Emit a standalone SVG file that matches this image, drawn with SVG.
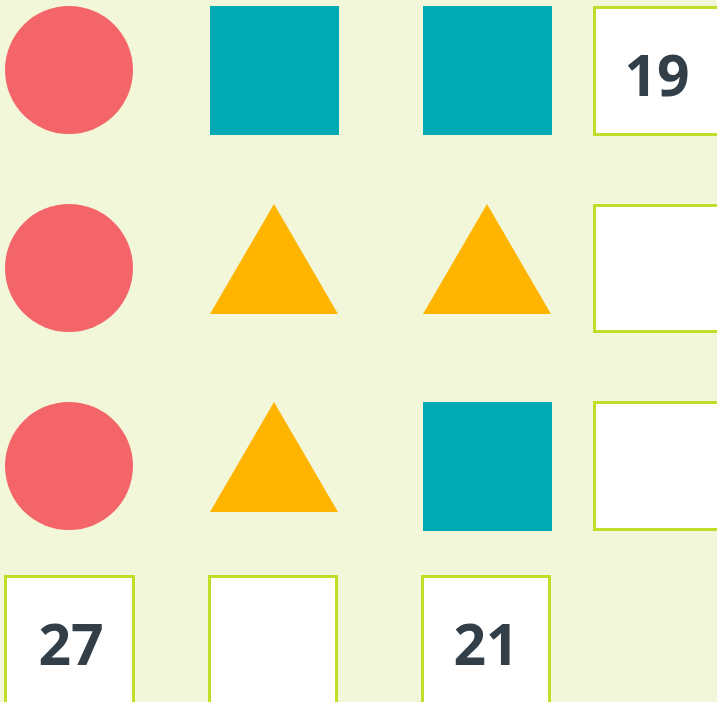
<svg xmlns="http://www.w3.org/2000/svg" width="717" height="702" viewBox="0 0 717 702">
<style>
.c{fill:#f4656a}
.s{fill:#00a9b4}
.t{fill:#ffb400}
.b{fill:#ffffff;stroke:#c2dc2a;stroke-width:3}
.n{font-family:"Open Sans",sans-serif;font-weight:700;font-size:57px;fill:#333f48;text-anchor:middle}
</style>
<rect width="717" height="702" fill="#f1f7d8"/>
<g id="r1c1"><circle class="c" cx="69" cy="70" r="64"/></g>
<g id="r1c2"><rect class="s" x="210" y="6" width="129" height="129"/></g>
<g id="r1c3"><rect class="s" x="423" y="6" width="129" height="129"/></g>
<g id="r1c4"><rect class="b" x="594.5" y="7.5" width="130" height="127"/><text class="n" x="657" y="96">19</text></g>
<g id="r2c1"><circle class="c" cx="69" cy="268" r="64"/></g>
<g id="r2c2"><polygon class="t" points="274,204 210,314 338,314"/></g>
<g id="r2c3"><polygon class="t" points="487,204 423,314 551,314"/></g>
<g id="r2c4"><rect class="b" x="594.5" y="205.5" width="130" height="126"/></g>
<g id="r3c1"><circle class="c" cx="69" cy="466" r="64"/></g>
<g id="r3c2"><polygon class="t" points="274,402 210,512 338,512"/></g>
<g id="r3c3"><rect class="s" x="423" y="402" width="129" height="129"/></g>
<g id="r3c4"><rect class="b" x="594.5" y="402.5" width="130" height="127"/></g>
<g id="r4c1"><rect class="b" x="5.5" y="576.5" width="128" height="140"/><text class="n" x="71" y="665">27</text></g>
<g id="r4c2"><rect class="b" x="209.5" y="576.5" width="127" height="140"/></g>
<g id="r4c3"><rect class="b" x="422.5" y="576.5" width="127" height="140"/><text class="n" x="486" y="665">21</text></g>
<g id="connectors"></g>
</svg>
